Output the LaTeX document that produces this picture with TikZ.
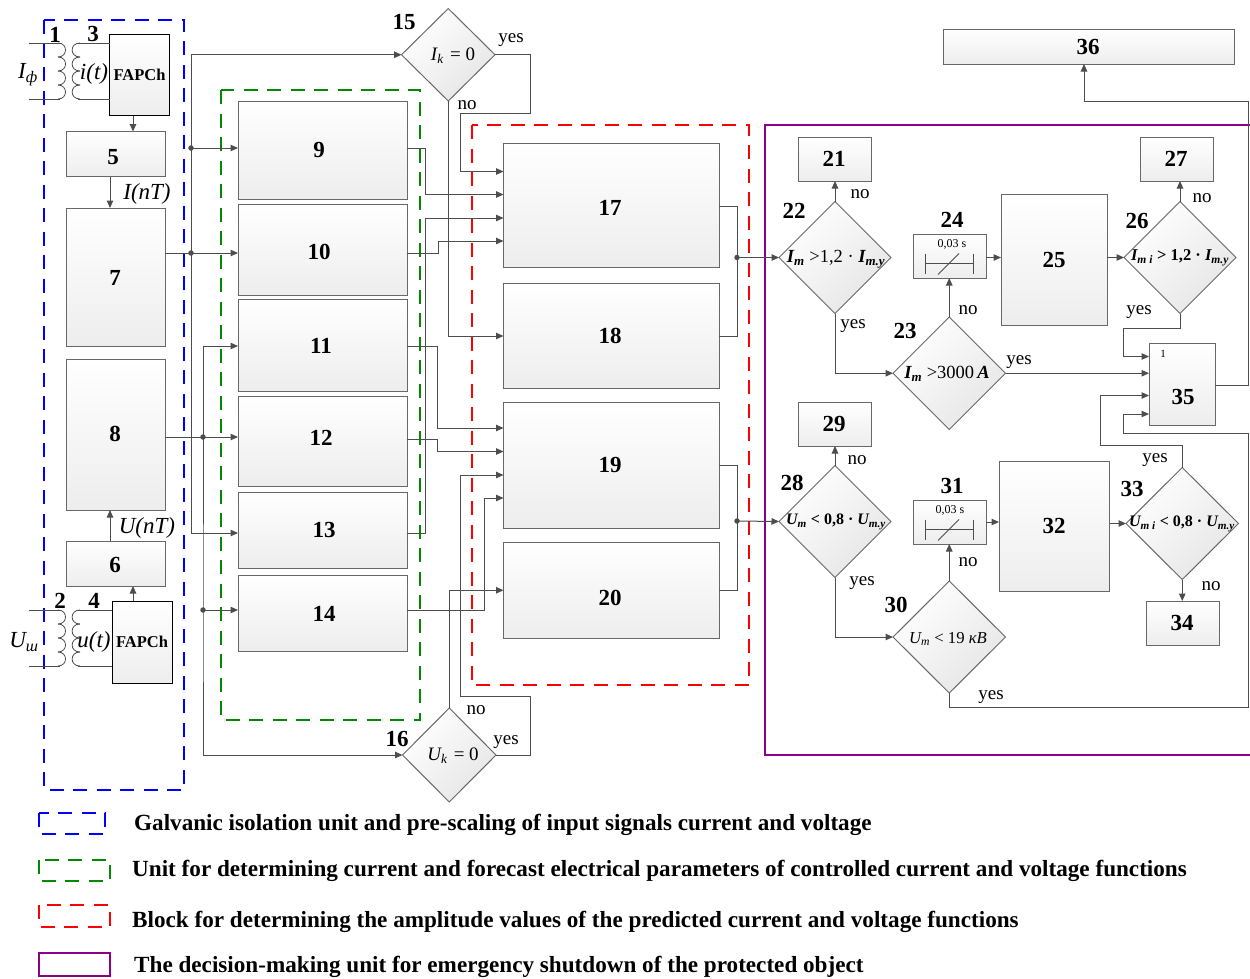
\documentclass[tikz,border=0pt]{standalone}
\usepackage{fontspec}
\setmainfont{Liberation Serif}
\usetikzlibrary{arrows.meta,shapes.geometric,calc}
\definecolor{ln}{HTML}{4D4D4D}
\definecolor{bd}{HTML}{686868}
\definecolor{purp}{HTML}{8B008B}
\definecolor{grn}{HTML}{008A00}
\tikzset{
  cn/.style={draw=ln,line width=1pt,line join=miter},
  arr/.style={cn,-{Triangle[length=7.5pt,width=6.5pt,fill=ln]}},
  blk/.style={draw=bd,line width=0.9pt,rectangle,inner sep=0pt,outer sep=0pt,top color=white,bottom color=black!7},
  fapch/.style={blk,draw=black},
  dia/.style={draw=bd,line width=1pt,diamond,inner sep=0pt,outer sep=0pt,top color=white,bottom color=black!10,shading angle=45},
  numl/.style={font=\fontsize{23}{23}\selectfont\bfseries,inner sep=0pt,yshift=-1pt},
  yn/.style={font=\fontsize{19}{19}\selectfont,inner sep=0pt,text height=12pt,text depth=0pt},
  form/.style={inner sep=0pt},
  sig/.style={font=\fontsize{23}{23}\selectfont\itshape,inner sep=0pt,yshift=-2pt},
  leg/.style={font=\fontsize{23.15}{23.15}\selectfont\bfseries,inner sep=0pt,anchor=west},
  dotn/.style={circle,fill=ln,inner sep=0pt,minimum size=5.5pt},
  frame/.style={line width=1.9pt,dash pattern=on 14pt off 9.5pt},
  coil/.style={draw=ln,line width=0.8pt}
}
\newcommand{\bx}[6][blk]{%
  \pgfmathsetmacro{\cxx}{(#3+#5)/2}\pgfmathsetmacro{\cyy}{(#4+#6)/2}%
  \pgfmathsetmacro{\wdd}{#5-#3}\pgfmathsetmacro{\htt}{#6-#4}%
  \node[#1,minimum width=\wdd pt,minimum height=\htt pt] (#2) at (\cxx,\cyy) {};}
\newcommand{\dm}[5]{%
  \pgfmathsetmacro{\cxx}{(#2+#3)/2}\pgfmathsetmacro{\cyy}{(#4+#5)/2}%
  \pgfmathsetmacro{\wdd}{#3-#2}\pgfmathsetmacro{\htt}{#5-#4}%
  \node[dia,minimum width=\wdd pt,minimum height=\htt pt] (#1) at (\cxx,\cyy) {};}
\newcommand{\sbs}[1]{\textsubscript{#1}}
\newcommand{\fs}[1]{\fontsize{#1}{#1}\selectfont}
\begin{document}
\begin{tikzpicture}[x=1pt,y=-1pt]
\useasboundingbox (0,0) rectangle (1250,978);
% frames
\draw[frame,blue] (44,20) rectangle (184,790);
\draw[frame,grn] (221,90) rectangle (420,720);
\draw[frame,red] (472,125) rectangle (749,685);
\draw[purp,line width=1.9pt] (1250,125) -- (765,125) -- (765,755) -- (1250,755);
% boxes
\bx[fapch]{b3}{109.5}{34}{169.5}{115.5}
\bx{b5}{66.5}{131.5}{165}{176.5}
\bx{b7}{66.5}{208}{165}{346}
\bx{b8}{66.5}{359}{165}{510}
\bx{b6}{66.5}{541}{165}{586}
\bx[fapch]{b4}{112}{601}{172}{683}
\bx{b9}{238}{101}{407}{199}
\bx{b10}{238}{204}{407}{295}
\bx{b11}{238}{299}{407}{391}
\bx{b12}{238}{396}{407}{486}
\bx{b13}{238}{492}{407}{568}
\bx{b14}{238}{575}{407}{651}
\bx{b17}{503.5}{143.5}{719}{267}
\bx{b18}{503.5}{283.5}{719}{388.5}
\bx{b19}{503.5}{402.5}{719}{528}
\bx{b20}{503.5}{542.5}{719}{638}
\bx{b21}{798}{137}{871}{181}
\bx{b24}{913}{234}{986}{278}
\bx{b25}{1001}{194.5}{1107}{325.5}
\bx{b27}{1140}{137}{1213}{181}
\bx{b35}{1149}{343}{1215}{425}
\bx{b36}{943}{29}{1234}{64}
\bx{b29}{798}{402}{871}{446}
\bx{b31}{913}{500}{986}{544}
\bx{b32}{999}{461}{1109.5}{591}
\bx{b34}{1146}{601}{1219}{645}
% diamonds
\dm{d15}{401.5}{495}{8.5}{101}
\dm{d16}{402.5}{496}{708}{802}
\dm{d22}{779}{891}{201.5}{313.5}
\dm{d23}{893}{1005.5}{317}{429.5}
\dm{d26}{1124}{1236}{201.5}{313.5}
\dm{d28}{779}{891}{465.5}{577.5}
\dm{d30}{893}{1005.5}{581}{693}
\dm{d33}{1126}{1238.5}{467.5}{579.5}
% junctions
\node[dotn] (j9) at (191,148) {};
\node[dotn] (j7) at (191,253) {};
\node[dotn] (j8) at (203,437) {};
\node[dotn] (j14) at (203,610) {};
\node[dotn] (j17) at (737,257.5) {};
\node[dotn] (j19) at (737,521) {};
% left column
\draw[arr] ([xshift=-6.5pt]b3.south) -- (133,131.5);
\draw[arr] ([xshift=-5.75pt]b5.south) -- ([xshift=-5.75pt]b7.north);
\draw[arr] ([xshift=-5.75pt]b6.north) -- ([xshift=-5.75pt]b8.south);
\draw[arr] ([xshift=-9pt]b4.north) -- (133,586);
\draw[cn] (b7.east |- j7.center) -- (j7.center);
\draw[arr] (j7.center) -- (j7.center -| b10.west);
\draw[arr] (j9.center) -- (j9.center -| b9.west);
\draw[arr] (j7.center) -- (j7.center |- d15.west) -- (d15.west);
\draw[arr] (j7.center) -- (191,533) -- ([yshift=-3pt]b13.west);
\draw[cn] (j8.center -| b8.east) -- (j8.center);
\draw[arr] (j8.center) -- (j8.center -| b12.west);
\draw[arr] (j8.center) -- (203,346) -- ([yshift=-1pt]b11.west);
\draw[arr] (j8.center) -- (j14.center) -- (j14.center |- d16.west) -- (d16.west);
\draw[arr] (j14.center) -- (j14.center -| b14.west);
% outputs of units 9-14
\draw[arr] (j9.center -| b9.east) -- (425.5,148) -- (425.5,194.5) -- ([yshift=10.75pt]b17.west);
\draw[arr] (j7.center -| b10.east) -- (438,253) -- (438,241) -- ([yshift=-35.75pt]b17.west);
\draw[arr] ([yshift=-3pt]b13.east) -- (425.5,533) -- (425.5,218) -- ([yshift=-12.75pt]b17.west);
\draw[arr] ([yshift=-1.5pt]b11.east) -- (437.5,346.5) -- (437.5,428) -- ([yshift=37.25pt]b19.west);
\draw[arr] ([yshift=1.5pt]b12.east) -- (437.5,439.5) -- (437.5,451.5) -- ([yshift=13.75pt]b19.west);
\draw[arr] (j14.center -| b14.east) -- (484,610) -- (484,498) -- ([yshift=-32.75pt]b19.west);
% decisions 15, 16
\draw[arr] (d15.south) -- (d15.south |- b18.west) -- (b18.west);
\draw[arr] (d15.east) -- (530.5,54.75) -- (530.5,113) -- (460.5,113) -- (460.5,171.5) -- ([yshift=33.75pt]b17.west);
\draw[arr] (d16.north) -- (449.25,590.25) -- (b20.west);
\draw[arr] (d16.east) -- (530.5,755) -- (530.5,696) -- (460.5,696) -- (460.5,475) -- ([yshift=-9.75pt]b19.west);
% amplitude outputs
\draw[cn] ([yshift=-1.25pt]b17.east) -- (737,206.5) -- (737,336) -- (b18.east);
\draw[cn] (b19.east) -- (737,465.25) -- (737,590.25) -- (b20.east);
\draw[arr] (j17.center) -- (d22.west);
\draw[arr] (j19.center) -- (d28.west);
% current branch
\draw[arr] (d22.north) -- (d22.north |- b21.south);
\draw[arr] (d22.south) -- (d22.south |- d23.west) -- (d23.west);
\draw[arr] (d23.north) -- (d23.north |- b24.south);
\draw[arr] (d23.east) -- (d23.east -| b35.west);
\draw[arr] (b24.east |- d26.west) -- (b25.west |- d26.west);
\draw[arr] (b25.east |- d26.west) -- (d26.west);
\draw[arr] (d26.north) -- (d26.north |- b27.south);
\draw[arr] (d26.south) -- (1180,328) -- (1123.5,328) -- (1123.5,356.5) -- ([yshift=27.5pt]b35.west);
\draw[arr] ([yshift=-1pt]b35.east) -- (1248,385) -- (1248,101) -- (1084,101) -- ([xshift=-4.5pt]b36.south);
% voltage branch
\draw[arr] (d28.north) -- (d28.north |- b29.south);
\draw[arr] (d28.south) -- (d28.south |- d30.west) -- (d30.west);
\draw[arr] (d30.north) -- (d30.north |- b31.south);
\draw[arr] (b31.east) -- (b32.west |- b31.east);
\draw[arr] (b32.east |- d33.west) -- (d33.west);
\draw[arr] (d33.south) -- (d33.south |- b34.north);
\draw[arr] (d33.north) -- (1182.25,445) -- (1100,445) -- (1100,395.5) -- ([yshift=-11.5pt]b35.west);
\draw[arr] (d30.south) -- (949.25,707) -- (1248,707) -- (1248,433) -- (1123.5,433) -- (1123.5,414) -- ([yshift=-30pt]b35.west);
% coils
\foreach \oy/\xe in {43/109.5,610/112}{
  \draw[coil] (29,\oy) -- (60,\oy);
  \draw[coil] (78,\oy) -- (\xe,\oy);
  \draw[coil] (78,\oy+56) -- (\xe,\oy+56);
  \draw[coil] (29,\oy+56) -- (60,\oy+56);
  \foreach \k in {0,1,2,3}{
    \draw[coil] (58,\oy+14*\k) .. controls (68,\oy+14*\k) and (68,\oy+14*\k+14) .. (58,\oy+14*\k+14);
    \draw[coil] (80,\oy+14*\k) .. controls (69.5,\oy+14*\k) and (69.5,\oy+14*\k+14) .. (80,\oy+14*\k+14);
  }
}
% relay symbols
\foreach \oy in {263.5,529.5}{
  \draw[coil] (925,\oy) -- (973,\oy);
  \draw[coil] (925,\oy-10) -- (925,\oy+10);
  \draw[coil] (973,\oy-10) -- (973,\oy+10);
  \draw[coil] (938,\oy+11) -- (959,\oy-10);
}
% box numbers
\foreach \n/\x/\y in {1/55/34,3/93/33,2/60/600,4/94/600,5/113/156,7/115/277,8/115/433,6/115/564,
  9/319/149,10/319/251,11/321/345,12/321/437,13/324/529,14/324/613,15/404/21,16/397/738,
  17/610/207,18/610/335,19/610/464,20/610/597,21/834/158,22/794/210,23/905/330,24/952/219,25/1054/259,
  26/1137/220,27/1176/158,28/792/482,29/834/423,30/896/604,31/952/485,32/1054/525,33/1132/488,
  34/1182/622,35/1183/396,36/1088/46}{
  \node[numl] (n\n) at (\x,\y) {\n};
}
% yes / no
\foreach \id/\t/\x/\y in {a/yes/511/36,b/no/467/103,c/yes/506/738,e/no/476/708,f/no/860/192,g/yes/853/322,
  h/no/968/308,i/yes/1019/358,j/no/1202/196,k/yes/1139/308,l/no/857/458,m/yes/862/579,n/no/968/560,
  o/yes/991/693,p/yes/1155/456,q/no/1211/584}{
  \node[yn] (t\id) at (\x,\y) {\t};
}
% text
\node[font=\fs{16.5}\bfseries,inner sep=0pt] (f3) at (139.5,74.5) {FAPCh};
\node[font=\fs{16.5}\bfseries,inner sep=0pt] (f4) at (142,641.5) {FAPCh};
\node[sig] (s1) at (28,73) {I\sbs{ф}};
\node[sig] (s2) at (94,72) {i(t)};
\node[sig] (s3) at (147,192) {I(nT)};
\node[sig] (s4) at (147,526) {U(nT)};
\node[sig] (s5) at (24,640) {U\sbs{ш}};
\node[sig] (s6) at (94,640) {u(t)};
\node[form,font=\fs{19}] (e15) at (453,56) {\textit{I\sbs{k}}\,\,= 0};
\node[form,font=\fs{19}] (e16) at (453,756) {\textit{U\sbs{k}}\,\,= 0};
\node[form,font=\fs{18.5}] (e22) at (836,259) {\textbf{\textit{I\sbs{m}}} >1,2 · \textbf{\textit{I\sbs{m.y}}}};
\node[form,font=\fs{18.5}] (e23) at (947,374) {\textbf{\textit{I\sbs{m}}} >3000\,\textbf{\textit{A}}};
\node[form,font=\fs{16.5}\bfseries] (e26) at (1180,258) {\textit{I\sbs{m i}} > 1,2 · \textit{I\sbs{m.y}}};
\node[form,font=\fs{16}\bfseries] (e28) at (836,522) {\textit{U\sbs{m}} < 0,8 · \textit{U\sbs{m.y}}};
\node[form,font=\fs{16.7}] (e30) at (948,639) {\textit{U\sbs{m}} < 19 \textit{кВ}};
\node[form,font=\fs{16}\bfseries] (e33) at (1182,524) {\textit{U\sbs{m i}} < 0,8 · \textit{U\sbs{m.y}}};
\node[form,font=\fs{12}] (r24) at (952,244) {0,03 s};
\node[form,font=\fs{12}] (r31) at (950,510) {0,03 s};
\node[form,font=\fs{11}] (o35) at (1163,354) {1};
% legend
\draw[frame,blue] (39,813) rectangle (105,834);
\draw[frame,grn] (39,860) rectangle (110,881);
\draw[frame,red] (39,905) rectangle (110,927);
\draw[purp,line width=1.9pt] (39,953) rectangle (110,976);
\node[leg] (l1) at (134,824.5) {Galvanic isolation unit and pre-scaling of input signals current and voltage};
\node[leg] (l2) at (132,871) {Unit for determining current and forecast electrical parameters of controlled current and voltage functions};
\node[leg] (l3) at (132,921.5) {Block for determining the amplitude values of the predicted current and voltage functions};
\node[leg] (l4) at (134,966.5) {The decision-making unit for emergency shutdown of the protected object};
\end{tikzpicture}
\end{document}
